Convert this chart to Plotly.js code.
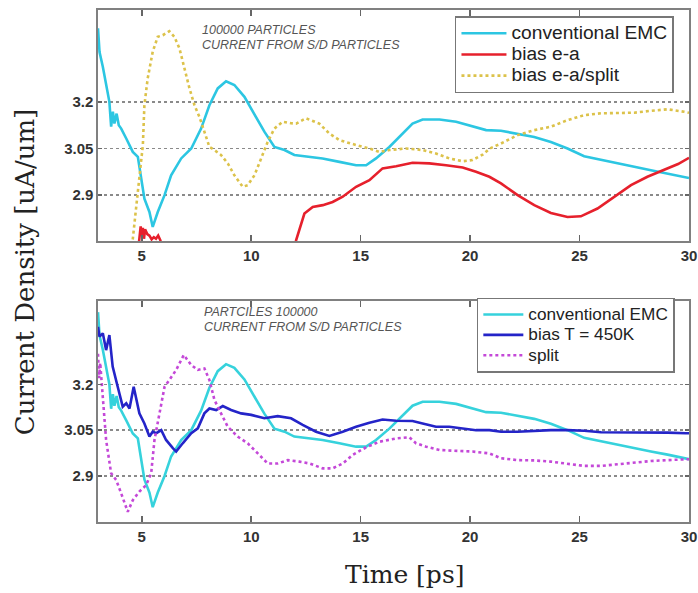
<!DOCTYPE html>
<html>
<head>
<meta charset="utf-8">
<script src="https://cdn.plot.ly/plotly-3.0.1.min.js"></script>
<style>html,body{margin:0;padding:0;background:#fff;}#chart{width:698px;height:593px;}</style>
</head>
<body>
<div id="chart"></div>
<script>
// ---- data ----
const xTickVals = [5, 10, 15, 20, 25, 30];
const yTickVals = [2.9, 3.05, 3.2];
const yTickText = ['2.9', '3.05', '3.2'];

// conventional EMC (same curve in both panels)
const emcX = [3.0, 3.07, 3.22, 3.45, 3.52, 3.6, 3.68, 3.75, 3.85, 3.95, 4.06, 4.29, 4.59, 4.82, 4.97, 5.12, 5.35, 5.5, 5.73, 6.04, 6.34, 6.8, 7.26, 7.71, 8.09, 8.47, 8.85, 9.23, 9.69, 10.15, 10.6, 11.06, 11.52, 11.97, 12.66, 13.26, 14.03, 14.79, 15.25, 15.7, 16.31, 16.92, 17.37, 17.83, 18.6, 19.36, 19.96, 20.73, 21.41, 22.17, 22.93, 23.69, 24.45, 25.21, 25.98, 26.74, 27.5, 28.26, 29.02, 29.86, 30];
const emcY = [3.436, 3.36, 3.313, 3.232, 3.2, 3.12, 3.168, 3.13, 3.162, 3.125, 3.114, 3.082, 3.039, 3.023, 2.954, 2.889, 2.846, 2.798, 2.846, 2.9, 2.964, 3.018, 3.05, 3.114, 3.189, 3.243, 3.266, 3.254, 3.216, 3.157, 3.104, 3.055, 3.045, 3.029, 3.023, 3.018, 3.007, 2.996, 2.996, 3.018, 3.055, 3.098, 3.13, 3.143, 3.143, 3.136, 3.125, 3.109, 3.107, 3.096, 3.087, 3.071, 3.05, 3.025, 3.013, 3.002, 2.991, 2.98, 2.97, 2.957, 2.955];

// bias e-a (top panel)
const biasEaX = [4.8, 4.9, 4.95, 5.0, 5.05, 5.1, 5.15, 5.25, 5.35, 5.45, 5.55, 5.65, 5.75, 5.85, 5.95, 6.2, 11.8, 12.05, 12.43, 12.81, 13.27, 13.72, 14.18, 14.79, 15.4, 16.0, 16.62, 17.37, 18.14, 18.9, 19.66, 20.27, 20.88, 21.41, 22.17, 22.93, 23.69, 24.45, 25.06, 25.82, 26.58, 27.35, 28.1, 28.87, 29.5, 30];
const biasEaY = [2.70, 2.78, 2.80, 2.77, 2.795, 2.76, 2.79, 2.775, 2.77, 2.758, 2.765, 2.76, 2.77, 2.755, 2.70, 2.62, 2.62, 2.755, 2.841, 2.862, 2.868, 2.878, 2.895, 2.927, 2.948, 2.986, 2.993, 3.004, 3.002, 2.996, 2.989, 2.975, 2.959, 2.938, 2.9, 2.868, 2.843, 2.83, 2.832, 2.857, 2.895, 2.932, 2.959, 2.983, 3.0, 3.02];

// bias e-a/split (top panel)
const biasSplitX = [4.5, 4.59, 4.82, 5.05, 5.12, 5.27, 5.5, 5.73, 5.96, 6.26, 6.49, 6.72, 6.95, 7.18, 7.41, 7.63, 7.86, 8.09, 8.32, 8.62, 8.93, 9.23, 9.61, 9.84, 10.15, 10.45, 10.75, 11.06, 11.44, 11.82, 12.05, 12.5, 13.11, 13.57, 14.03, 14.79, 15.4, 15.85, 16.31, 17.07, 17.83, 18.44, 19.05, 19.66, 20.11, 20.57, 20.9, 21.41, 22.17, 22.93, 23.69, 24.45, 25.21, 25.98, 26.74, 27.5, 28.26, 29.02, 29.78, 30];
const biasSplitY = [2.70, 2.755, 2.911, 3.061, 3.189, 3.275, 3.361, 3.409, 3.414, 3.427, 3.409, 3.372, 3.307, 3.243, 3.189, 3.152, 3.104, 3.055, 3.045, 3.029, 3.002, 2.964, 2.927, 2.932, 2.964, 3.018, 3.071, 3.114, 3.136, 3.131, 3.13, 3.147, 3.13, 3.098, 3.077, 3.061, 3.05, 3.039, 3.045, 3.05, 3.045, 3.034, 3.018, 3.009, 3.013, 3.03, 3.05, 3.066, 3.093, 3.109, 3.12, 3.141, 3.157, 3.163, 3.163, 3.165, 3.171, 3.176, 3.168, 3.165];

// bias T = 450K (bottom panel)
const biasTX = [3.0, 3.07, 3.22, 3.37, 3.52, 3.67, 3.9, 4.13, 4.29, 4.44, 4.63, 4.74, 4.89, 5.12, 5.35, 5.5, 5.66, 5.89, 6.11, 6.42, 6.57, 6.87, 7.26, 7.56, 7.86, 8.09, 8.4, 8.7, 9.08, 9.54, 10.0, 10.6, 11.21, 11.82, 12.35, 12.96, 13.57, 14.18, 14.79, 15.4, 16.0, 16.62, 17.37, 17.83, 18.44, 19.05, 19.66, 20.27, 20.88, 21.41, 22.17, 22.93, 23.69, 24.45, 25.21, 25.98, 26.74, 27.5, 28.26, 29.02, 29.86, 30];
const biasTY = [3.388, 3.356, 3.367, 3.312, 3.361, 3.258, 3.192, 3.127, 3.138, 3.121, 3.192, 3.159, 3.105, 3.072, 3.029, 3.045, 3.04, 3.05, 3.018, 2.991, 2.98, 3.007, 3.04, 3.056, 3.105, 3.121, 3.116, 3.129, 3.116, 3.105, 3.1, 3.089, 3.096, 3.089, 3.067, 3.045, 3.031, 3.045, 3.061, 3.074, 3.085, 3.081, 3.08, 3.072, 3.061, 3.061, 3.056, 3.05, 3.05, 3.045, 3.045, 3.048, 3.05, 3.05, 3.048, 3.043, 3.043, 3.042, 3.042, 3.042, 3.04, 3.04];

// split (bottom panel)
const splitX = [3.0, 3.05, 3.1, 3.2, 3.3, 3.37, 3.6, 3.83, 4.06, 4.36, 4.59, 4.89, 5.2, 5.43, 5.58, 5.81, 6.04, 6.26, 6.57, 6.92, 7.26, 7.56, 7.86, 8.09, 8.32, 8.62, 8.93, 9.38, 9.84, 10.3, 10.75, 11.21, 11.67, 12.2, 12.66, 13.27, 13.72, 14.18, 14.64, 15.25, 15.85, 16.62, 17.22, 17.53, 17.99, 18.6, 19.36, 20.11, 20.88, 21.41, 22.17, 22.93, 23.69, 24.45, 25.21, 25.98, 26.74, 27.5, 28.26, 29.02, 29.86, 30];
const splitY = [3.30, 3.22, 3.27, 3.18, 3.10, 3.018, 2.909, 2.887, 2.843, 2.783, 2.821, 2.849, 2.87, 2.909, 3.018, 3.105, 3.192, 3.214, 3.247, 3.296, 3.263, 3.247, 3.252, 3.214, 3.149, 3.105, 3.061, 3.029, 3.007, 2.974, 2.941, 2.941, 2.952, 2.947, 2.941, 2.925, 2.925, 2.941, 2.969, 2.994, 3.012, 3.023, 3.027, 3.007, 2.996, 2.985, 2.983, 2.98, 2.974, 2.958, 2.952, 2.951, 2.947, 2.939, 2.933, 2.933, 2.939, 2.943, 2.949, 2.952, 2.955, 2.955];

const topNames = ['conventional EMC', 'bias e-a', 'bias e-a/split'];
const bottomNames = ['conventional EMC', 'bias T = 450K', 'split'];
const topNote = ['100000 PARTICLES', 'CURRENT FROM S/D PARTICLES'];
const bottomNote = ['PARTCILES 100000', 'CURRENT FROM S/D PARTICLES'];

// ---- styles ----
const cCyanTop = '#2cc6e2';
const cCyanBot = '#36d2dc';
const cRed = '#e6202c';
const cYellow = '#dcc24a';
const cBlue = '#2424c8';
const cMagenta = '#c448d8';
const sans = 'Liberation Sans, Arial, sans-serif';
const serif = 'DejaVu Serif, serif';
const big = (t, px) => '<span style="font-size:' + px + 'px">' + t + '</span>';

const traces = [
  {x: emcX, y: emcY, name: big(topNames[0], 19.2), type: 'scatter', mode: 'lines', line: {color: cCyanTop, width: 2.6}, xaxis: 'x', yaxis: 'y', legend: 'legend'},
  {x: biasEaX, y: biasEaY, name: big(topNames[1], 19.2), type: 'scatter', mode: 'lines', line: {color: cRed, width: 2.6}, xaxis: 'x', yaxis: 'y', legend: 'legend'},
  {x: biasSplitX, y: biasSplitY, name: big(topNames[2], 19.2), type: 'scatter', mode: 'lines', line: {color: cYellow, width: 2.6, dash: 'dot'}, xaxis: 'x', yaxis: 'y', legend: 'legend'},
  {x: emcX, y: emcY, name: big(bottomNames[0], 17.2), type: 'scatter', mode: 'lines', line: {color: cCyanBot, width: 2.6}, xaxis: 'x2', yaxis: 'y2', legend: 'legend2'},
  {x: biasTX, y: biasTY, name: big(bottomNames[1], 17.2), type: 'scatter', mode: 'lines', line: {color: cBlue, width: 2.6}, xaxis: 'x2', yaxis: 'y2', legend: 'legend2'},
  {x: splitX, y: splitY, name: big(bottomNames[2], 17.2), type: 'scatter', mode: 'lines', line: {color: cMagenta, width: 2.6, dash: 'dot'}, xaxis: 'x2', yaxis: 'y2', legend: 'legend2'}
];

function xAxis(anchor) {
  return {
    domain: [0, 1], range: [3, 30], anchor: anchor,
    tickmode: 'array', tickvals: xTickVals, ticktext: xTickVals.map(String),
    ticks: 'inside', ticklen: 6, tickwidth: 1.5, tickcolor: '#666', mirror: 'ticks',
    showline: true, linecolor: '#808080', linewidth: 1.6,
    showgrid: false, zeroline: false,
    tickfont: {family: sans, size: 15, color: '#333', weight: 'bold'}
  };
}
function yAxis(anchor, domain, range) {
  return {
    domain: domain, range: range, anchor: anchor,
    tickmode: 'array', tickvals: yTickVals, ticktext: yTickText,
    ticks: 'inside', ticklen: 4, tickwidth: 1.5, tickcolor: '#666', mirror: 'ticks',
    showline: true, linecolor: '#808080', linewidth: 1.6,
    showgrid: true, gridcolor: '#8a8a8a', gridwidth: 1.4, griddash: 'dot',
    zeroline: false,
    tickfont: {family: sans, size: 15, color: '#333', weight: 'bold'}
  };
}

const noteFont = {family: sans, size: 12.5, color: '#555', style: 'italic'};
function note(text, x, y) {
  return {text: text, xref: 'paper', yref: 'paper', x: x, y: y, xanchor: 'left', yanchor: 'middle', showarrow: false, font: noteFont};
}

const layout = {
  width: 698, height: 593,
  margin: {l: 98, r: 9, t: 10, b: 71},
  paper_bgcolor: '#ffffff', plot_bgcolor: '#ffffff',
  showlegend: true,
  xaxis: xAxis('y'),
  yaxis: yAxis('x', [0.549, 1], [2.753, 3.495]),
  xaxis2: xAxis('y2'),
  yaxis2: yAxis('x2', [0, 0.4316], [2.7495, 3.4726]),
  legend: {x: 0.604, y: 0.988, xanchor: 'left', yanchor: 'top', bgcolor: '#fff', bordercolor: '#777', borderwidth: 1.5,
           font: {family: sans, size: 14, color: '#222'}, tracegroupgap: 0, itemwidth: 45},
  legend2: {x: 0.641, y: 0.438, xanchor: 'left', yanchor: 'top', bgcolor: '#fff', bordercolor: '#777', borderwidth: 1.5,
            font: {family: sans, size: 13.4, color: '#222'}, tracegroupgap: 0, itemwidth: 40},
  annotations: [
    note(topNote[0], 0.1726, 0.961),
    note(topNote[1], 0.1726, 0.9316),
    note(bottomNote[0], 0.1755, 0.410),
    note(bottomNote[1], 0.1755, 0.381),
    {text: 'Current Density [uA/um]', xref: 'paper', yref: 'paper', x: -0.1235, y: 0.488, textangle: -90,
     showarrow: false, xanchor: 'center', yanchor: 'middle', font: {family: serif, size: 26, color: '#222'}},
    {text: 'Time [ps]', xref: 'paper', yref: 'paper', x: 0.5178, y: -0.1016,
     showarrow: false, xanchor: 'center', yanchor: 'middle', font: {family: serif, size: 25, color: '#222'}}
  ]
};

Plotly.newPlot('chart', traces, layout, {staticPlot: true, displayModeBar: false});
</script>
</body>
</html>
